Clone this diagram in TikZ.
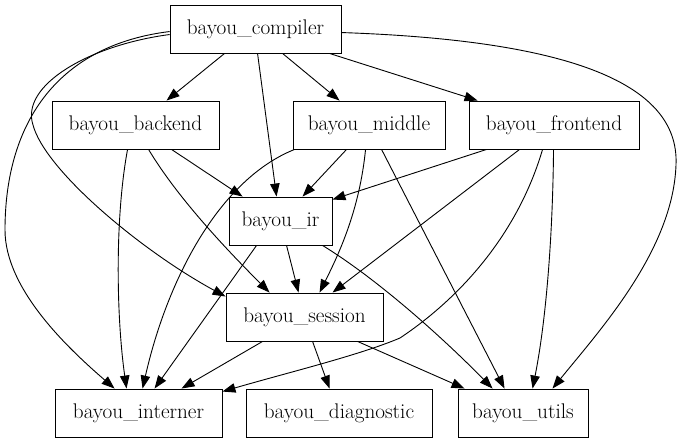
\documentclass[tikz,border=0pt]{standalone}
\usetikzlibrary{arrows.meta}
\begin{document}
\begin{tikzpicture}[x=1pt,y=-1pt,
  box/.style={draw,line width=0.9pt,inner sep=0pt,minimum height=48pt,font=\fontsize{21.2}{26}\selectfont},
  edge/.style={line width=0.9pt,-{Triangle[length=13pt,width=9.5pt]}}]
\useasboundingbox (0,0) rectangle (681,443);
\node[box,minimum width=171pt] (compiler) at (255.5,29) {bayou\_compiler};
\node[box,minimum width=167pt] (backend) at (135.5,125) {bayou\_backend};
\node[box,minimum width=152pt] (middle) at (369,125) {bayou\_middle};
\node[box,minimum width=170pt] (frontend) at (554,125) {bayou\_frontend};
\node[box,minimum width=103pt] (ir) at (280.5,221) {bayou\_ir};
\node[box,minimum width=157pt] (session) at (304.5,317) {bayou\_session};
\node[box,minimum width=167pt] (interner) at (138.5,413) {bayou\_interner};
\node[box,minimum width=186pt] (diagnostic) at (339,413) {bayou\_diagnostic};
\node[box,minimum width=130pt] (utils) at (523,413) {bayou\_utils};
% compiler
\draw[edge] ([xshift=55pt]compiler.south west) -- ([xshift=115pt]backend.north west);
\draw[edge] ([xshift=88pt]compiler.south west) -- ([xshift=48pt]ir.north west);
\draw[edge] ([xshift=113pt]compiler.south west) -- ([xshift=47pt]middle.north west);
\draw[edge] ([xshift=160pt]compiler.south west) -- ([xshift=9pt]frontend.north west);
\draw[edge] ([yshift=-28pt]compiler.north east) .. controls (560,40) and (680,80) .. (676,165)
   .. controls (673,250) and (600,330) .. ([xshift=95pt]utils.north west);
\draw[edge] ([yshift=-30pt]compiler.north west) .. controls (90,45) and (20,85) .. (33,125)
   .. controls (45,170) and (140,250) .. ([yshift=-4pt]session.north west);
\draw[edge] ([yshift=-27pt]compiler.north west) .. controls (60,45) and (5,120) .. (5,230)
   .. controls (5,290) and (70,350) .. ([xshift=60pt]interner.north west);
% backend
\draw[edge] ([xshift=120pt]backend.south west) -- ([xshift=14pt]ir.north west);
\draw[edge] ([xshift=97pt]backend.south west) .. controls +(30,50) and +(-40,-40) .. ([xshift=44pt]session.north west);
\draw[edge] ([xshift=76pt]backend.south west) .. controls +(-13,70) and +(-10,-70) .. ([xshift=72pt]interner.north west);
% middle
\draw[edge] ([xshift=54pt]middle.south west) -- ([xshift=74pt]ir.north west);
\draw[edge] ([xshift=73pt]middle.south west) .. controls +(-6,60) and +(20,-40) .. ([xshift=94pt]session.north west);
\draw[edge] ([xshift=89pt]middle.south west) -- ([xshift=47pt]utils.north west);
\draw[edge] ([xshift=2pt]middle.south west) .. controls +(-75,30) and +(25,-110) .. ([xshift=88pt]interner.north west);
% frontend
\draw[edge] ([xshift=18pt]frontend.south west) -- ([yshift=-3pt]ir.north east);
\draw[edge] ([xshift=51pt]frontend.south west) -- ([xshift=107pt]session.north west);
\draw[edge] ([xshift=85pt]frontend.south west) .. controls +(-1,100) and +(12,-60) .. ([xshift=75pt]utils.north west);
\draw[edge] ([xshift=74pt]frontend.south west) .. controls +(-25,85) and +(60,-40) .. (400,338)
   .. controls (360,355) and (290,372) .. ([yshift=-3pt]interner.north east);
% ir
\draw[edge] ([xshift=58pt]ir.south west) -- ([xshift=73pt]session.north west);
\draw[edge] ([xshift=28pt]ir.south west) -- ([xshift=100pt]interner.north west);
\draw[edge] ([xshift=94pt]ir.south west) .. controls +(57,35) and +(-47,-48) .. ([xshift=35pt]utils.north west);
% session
\draw[edge] ([xshift=37pt]session.south west) -- ([xshift=127pt]interner.north west);
\draw[edge] ([xshift=87pt]session.south west) -- ([xshift=84pt]diagnostic.north west);
\draw[edge] ([xshift=132pt]session.south west) -- ([xshift=7pt]utils.north west);
\end{tikzpicture}
\end{document}
